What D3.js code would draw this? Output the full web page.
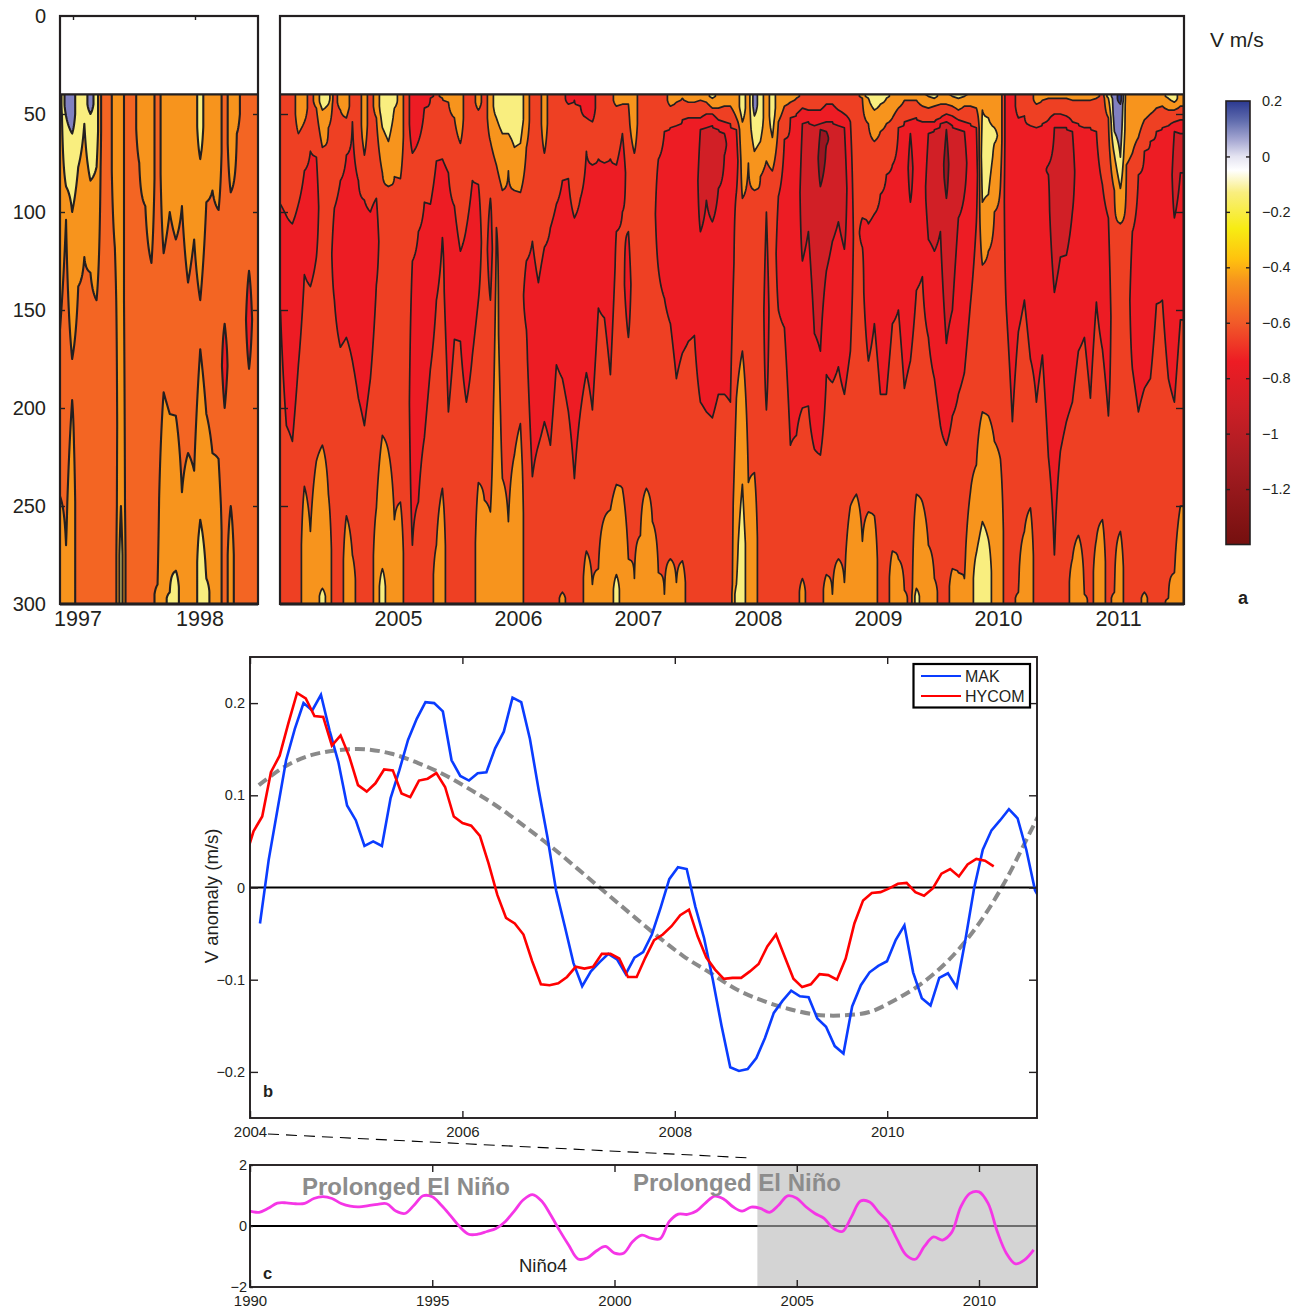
<!DOCTYPE html>
<html>
<head>
<meta charset="utf-8">
<script src="https://cdnjs.cloudflare.com/ajax/libs/d3/7.8.5/d3.min.js"></script>
<style>
html, body { margin: 0; padding: 0; background: #fff; overflow: hidden; }
text { font-family: "Liberation Sans", Arial, sans-serif; fill: #231F20; }
</style>
</head>
<body>
<svg id="chart" width="1302" height="1309"></svg>
<script>
// --- panel a : one column per 0.05 yr, read top to bottom as band, depth where it ends, next band, ...
// bands: 0 deep blue, 1 periwinkle, 2 pale yellow, 3 orange, 4 orange red, 5 red, 6 dark red, 7 darkest red
var bandColorsRight = ["#2B3990", "#8080C0", "#F9EE7F", "#F7941D", "#EE4023", "#ED1C24", "#D11F26", "#9B1520"];
var bandColorsLeft = ["#2B3990", "#8080C0", "#F9EE7F", "#F7941D", "#F36523", "#ED1C24", "#D11F26", "#9B1520"];
var depthTicks = [0, 50, 100, 150, 200, 250, 300];
var leftYears = [1997, 1998];
var rightYears = [2005, 2006, 2007, 2008, 2009, 2010, 2011];
var leftStart = 1996.893, rightStart = 2004.02, columnStep = 0.05;

var leftProfiles = [
  [3,160,4,245,3],[1,51,2,87,3,104,4,270,3],[1,60,2,100,3,175,4,196,3],[2,77,3,138,4],[2,55,3,123,4],
  [1,50,2,84,3,131,4],[2,77,3,145,4],[4],[4],[3,118,4],[3,250,2],[4],[4],[3,75,4],[3,97,4],[3,126,4],
  [4,290,3],[3,121,4,192,3],[3,100,4,203,3,294,2],[3,114,4,204,3,283,2],[3,97,4,243,3],[3,136,4,223,3],
  [3,114,4,232,3],[2,73,3,145,4,170,3,257,2],[3,95,4,203,3,287,2],[3,89,4,223,3],[3,99,4,226,3],
  [4,157,5,200,4],[3,90,4,250,3],[3,60,4],[4],[4,130,5,180,4],[4]
];

var rightProfiles = [
  [4,96,5,150,4],[4,102,5,209,4],[4,106,5,217,4],[3,60,4,96,5,178,4],[3,54,4,79,5,132,4,240,3],
  [4,69,5,138,4,263,3],[3,47,4,72,5,123,4,227,3],[2,48,3,67,4,219,3,292,2],[2,45,3,57,4,244,3],[4,98,5,145,4],
  [3,48,4,84,5,169,4],[3,52,4,71,5,164,4,255,3],[4,54,5,176,4,275,3],[4,84,5,195,4],[3,71,4,94,5,209,4],
  [4,100,5,185,4],[3,52,4,93,5,137,4,251,3],[2,57,3,80,4,214,3,282,2],[2,64,3,87,4,222,3],[2,47,3,82,4,257,3],
  [3,83,4,248,3],[4],[5,70,4,125,5,270,4],[5,64,4,110,5,248,4],[5,47,4,95,5,215,4],
  [5,42,4,96,5,180,4],[4,74,5,145,4,270,3],[3,42,4,73,5,113,4,241,3],[3,44,4,80,5,202,4],[3,52,4,97,5,165,4],
  [3,65,4,120,5,166,4],[4,108,5,197,4],[4,84,5,173,4],[3,48,4,86,5,145,4,238,3],[4,247,3],
  [3,64,4,93,5,145,4,253,3],[2,52,3,76,4,108,3],[2,60,3,89,4,236,3],[2,60,3,79,4,258,3],[2,67,3,89,4,224,3],
  [2,65,3,90,4,208,3],[3,67,4,125,5,160,4],[4,115,5,235,4],[4,136,5,219,4],[3,70,4,118,5,207,4],
  [4,108,5,219,4],[4,96,5,178,4],[4,84,5,185,4,294,3],[5,45,4,83,5,202,4],[5,43,4,103,5,236,4],
  [5,46,4,93,5,202,4],[5,52,4,69,5,182,4,273,3],[5,54,4,76,5,201,4,290,3],[4,73,5,149,4,282,3],[4,75,5,154,4,256,3],
  [4,73,5,183,4,252,3],[3,46,4,76,5,110,4,239,3,285,2],[3,45,4,60,5,100,4,241,3],[3,45,4,110,5,164,4,277,3],[3,70,4,287,3],
  [4,265,3],[4,241,3],[4,258,3],[4,73,5,129,4,284,3],[4,59,5,144,4,295,3],
  [3,46,4,57,5,157,4,277,3],[3,44,4,56,5,185,4,289,3],[3,42,4,53,5,172,4,278,3],[3,44,4,52,5,166,4],[3,44,4,52,5,163,4],
  [3,43,4,52,5,58,6,110,5,197,4],[3,44,4,50,5,57,6,94,5,202,4],[2,42,3,47,4,50,5,56,6,105,5,205,4],[3,47,4,53,5,58,6,88,5,193,4],[3,46,4,54,5,60,6,71,5,193,4],
  [3,46,4,55,5,197,4],[3,52,4,58,5,90,4,195,3,290,2],[2,54,3,93,4,171,3,239,2],[3,75,4,238,3],[1,51,2,69,3,89,4,233,3],
  [2,64,3,82,4],[3,74,4,100,5,201,4],[2,62,3,79,4],[3,54,4,92,5,150,4],[3,46,4,63,5,159,4],
  [3,44,4,52,5,219,4],[3,42,4,50,5,214,4],[4,47,5,55,6,125,5,200,4,287,3],[4,48,5,54,6,110,5,199,4],[4,48,5,56,6,162,5,221,4],
  [4,48,5,55,6,58,7,87,6,171,5,224,4],[4,45,5,54,6,59,7,66,6,130,5,183,4,285,3],[4,45,5,54,6,115,5,187,4,295,3],[4,48,5,56,6,105,5,179,4,277,3],[4,50,5,57,6,119,5,193,4,289,3],
  [4,54,5,171,4,250,3],[4,244,3],[3,42,4,103,5,118,4,268,3],[2,42,3,55,4,106,5,176,4,253,3],[2,48,3,64,4,101,5,157,4,255,3],
  [2,45,3,59,4,91,5,193,4],[2,42,3,55,4,81,5,193,4],[3,52,4,76,5,157,4,273,3],[3,47,4,57,5,150,4,277,3],[3,43,4,54,5,190,4,293,3],
  [3,43,4,53,5,60,6,95,5,176,4],[3,43,4,52,5,140,4,244,3,292,2],[3,46,4,54,5,133,4,248,3],[2,41,3,47,4,54,5,60,6,114,5,164,4,270,3],[2,42,3,46,4,54,5,58,6,120,5,185,4,287,3],
  [3,45,4,52,5,55,6,110,5,209,4],[3,45,4,50,5,54,6,58,7,93,6,167,5,219,4],[2,41,3,46,4,51,5,56,6,150,5,204,4,282,3],[2,42,3,48,4,53,5,58,6,103,5,193,4,284,3],[2,41,3,46,4,54,5,59,6,91,5,182,4,287,3],
  [3,46,4,55,5,147,4,243,3],[3,47,4,57,5,105,4,229,3,274,2],[3,48,2,95,3,127,4,202,3,258,2],[3,52,2,91,3,120,4,204,3,267,2],[3,57,2,65,3,100,4,217,3],
  [3,87,4,226,3],[5,150,4],[5,207,4],[4,52,5,161,4,294,3],[4,51,5,145,4,263,3],
  [4,56,5,175,4,251,3],[3,45,4,57,5,197,4],[3,43,4,55,5,173,4],[3,42,4,53,5,76,6,81,5,225,4],[3,42,4,50,5,57,6,141,5,275,4],
  [3,42,4,50,5,57,6,123,5,222,4],[3,42,4,51,5,57,6,122,5,207,4],[3,43,4,54,5,59,6,100,5,197,4,277,3],[3,43,4,55,5,171,4,265,3],[3,43,4,57,5,164,4,295,3],
  [3,43,4,57,5,195,4],[3,42,4,59,5,146,4,267,3],[4,86,5,170,4,257,3],[2,42,3,52,4,103,5,204,4],[1,59,2,71,3,89,4,294,3],
  [0,45,1,72,2,88,3,106,4,263,3],[3,76,4],[3,70,4,110,5,180,4],[3,62,4,81,5,202,4],[3,53,4,69,5,190,4,294,3],
  [3,50,4,64,5,185,4],[3,47,4,59,5,147,4],[3,46,4,57,5,145,4],[2,42,3,48,4,56,5,185,4,297,3],[2,44,3,48,4,54,5,59,6,103,5,197,4,284,3],
  [3,46,4,53,5,60,6,80,5,155,4,250,3]
];

// colour bar
var barTicks = [0.2, 0, -0.2, -0.4, -0.6, -0.8, -1, -1.2];
var barStopValues = [0.2, 0.13, 0.06, 0, -0.05, -0.13, -0.26, -0.37, -0.45, -0.6, -0.74, -0.9, -1.1, -1.4];
var barStopColors = ["#2B3990", "#5F6BAD", "#A5A7D2", "#E4E3F1", "#FFFFFF", "#F9EE7F", "#F7EC13", "#FFC20E", "#F7941D", "#F15A29", "#ED1C24", "#CE1F26", "#A71C22", "#75100F"];

// --- panel b : monthly values, m/s
var makStart = 2004.094, hycomStart = 2003.951, monthStep = 0.082;
var mak = [-0.039, 0.030, 0.084, 0.138, 0.172, 0.200, 0.192, 0.209, 0.170, 0.136, 0.089, 0.073, 0.045, 0.050, 0.045,
  0.097, 0.127, 0.160, 0.183, 0.201, 0.200, 0.191, 0.138, 0.121, 0.116, 0.124, 0.125, 0.151, 0.169, 0.206, 0.201,
  0.161, 0.106, 0.055, -0.003, -0.042, -0.082, -0.107, -0.091, -0.081, -0.072, -0.078, -0.094, -0.076,
  -0.070, -0.051, -0.022, 0.009, 0.022, 0.020, -0.021, -0.055, -0.100, -0.150, -0.195, -0.199, -0.197, -0.185,
  -0.163, -0.136, -0.123, -0.112, -0.118, -0.119, -0.142, -0.151, -0.172, -0.180, -0.129, -0.106, -0.092, -0.085,
  -0.080, -0.057, -0.041, -0.092, -0.120, -0.128, -0.098, -0.093, -0.108, -0.057, -0.001, 0.041, 0.062, 0.073,
  0.085, 0.075, 0.041, -0.003, -0.020];
var hycom = [0.030, 0.061, 0.077, 0.125, 0.143, 0.178, 0.211, 0.205, 0.186, 0.185, 0.154, 0.165, 0.142, 0.111, 0.104,
  0.113, 0.128, 0.127, 0.102, 0.098, 0.116, 0.118, 0.124, 0.109, 0.077, 0.070, 0.067, 0.056, 0.026, -0.008, -0.033,
  -0.039, -0.051, -0.080, -0.105, -0.106, -0.104, -0.097, -0.086, -0.088, -0.086, -0.072, -0.072, -0.077, -0.097,
  -0.097, -0.076, -0.057, -0.051, -0.042, -0.030, -0.024, -0.053, -0.076, -0.089, -0.099, -0.098, -0.098, -0.091,
  -0.083, -0.064, -0.051, -0.075, -0.099, -0.108, -0.105, -0.094, -0.095, -0.100, -0.077, -0.039, -0.014, -0.006,
  -0.005, -0.001, 0.004, 0.005, -0.005, -0.009, -0.001, 0.015, 0.020, 0.012, 0.025, 0.031, 0.029, 0.023];
// dashed low pass curve, one value per quarter year
var trendStart = 2004.0833, trendStep = 0.25;
var trend = [0.111, 0.1315, 0.1438, 0.149, 0.150, 0.145, 0.135, 0.122, 0.1056, 0.0876, 0.0665, 0.0445, 0.0205, -0.004,
  -0.0285, -0.0525, -0.0746, -0.0926, -0.1106, -0.123, -0.132, -0.138, -0.1387, -0.135, -0.1214, -0.1034, -0.0782,
  -0.044, 0.001, 0.057, 0.115];
var anomalyTicks = [0.2, 0.1, 0, -0.1, -0.2];
var bYears = [2004, 2006, 2008, 2010];

// --- panel c : Nino4, one value per quarter year from 1990
var ninoStart = 1990, ninoStep = 0.25;
var nino4 = [0.49, 0.45, 0.58, 0.75, 0.76, 0.73, 0.74, 0.90, 0.96, 0.90, 0.74, 0.65, 0.63, 0.67, 0.71, 0.73, 0.49, 0.41,
  0.68, 0.99, 0.96, 0.68, 0.34, -0.02, -0.27, -0.27, -0.18, -0.08, 0.14, 0.49, 0.86, 1.03, 0.82, 0.36, -0.16, -0.64,
  -1.08, -1.05, -0.82, -0.67, -0.89, -0.89, -0.51, -0.30, -0.40, -0.42, 0.14, 0.39, 0.38, 0.49, 0.76, 0.98, 0.88, 0.63,
  0.49, 0.62, 0.58, 0.45, 0.68, 0.99, 0.91, 0.63, 0.41, 0.25, -0.08, -0.18, 0.30, 0.82, 0.79, 0.45, 0.14, -0.43, -0.95,
  -1.09, -0.67, -0.36, -0.46, -0.21, 0.63, 1.07, 1.12, 0.74, -0.18, -0.89, -1.24, -1.11, -0.78];
var ninoTicks = [2, 0, -2];
var cYears = [1990, 1995, 2000, 2005, 2010];
var shadeStart = 2003.92;

var svg = d3.select("#chart");
var ink = "#231F20";
var fmtMinus = function (v) { return String(v).replace("-", "\u2212"); };

// turns one column into depth -> value, value is band number on a continuous scale
function columnProfile(col) {
    var depths = [], vals = [], top = 40, i;
    for (i = 0; i < col.length; i += 2) {
        var bottom = i + 1 < col.length ? col[i + 1] : 300;
        if (i === 0) { depths.push(top); vals.push(col[0] + 0.5); }
        depths.push((top + bottom) / 2);
        vals.push(col[i] + 0.5);
        if (i + 1 < col.length) {
            depths.push(bottom);
            vals.push((col[i] + col[i + 2] + 1) / 2);
        } else {
            depths.push(300);
            vals.push(col[i] + 0.5);
        }
        top = bottom;
    }
    return d3.scaleLinear().domain(depths).range(vals);
}

function drawField(g, profiles, colors, x, y, start, box, strokeWidth, id) {
    var n = profiles.length, m = 261, values = new Array(n * m);
    profiles.forEach(function (col, c) {
        var p = columnProfile(col);
        for (var r = 0; r < m; r++) {
            values[c + r * n] = p(40 + r);
        }
    });

    var contours = d3.contours().size([n, m]).thresholds(d3.range(1, 8))(values);
    var path = d3.geoPath(d3.geoTransform({
        point: function (px, py) {
            this.stream.point(x(start + (px - 0.5) * columnStep), y(40 + py - 0.5));
        }
    }));

    svg.append("clipPath").attr("id", id)
        .append("rect")
        .attr("x", box.x0).attr("y", y(40))
        .attr("width", box.x1 - box.x0).attr("height", y(300) - y(40));

    var inner = g.append("g").attr("clip-path", "url(#" + id + ")");
    inner.append("rect")
        .attr("x", box.x0).attr("y", y(40))
        .attr("width", box.x1 - box.x0).attr("height", y(300) - y(40))
        .attr("fill", colors[0]);

    inner.selectAll("path").data(contours).enter().append("path")
        .attr("d", path)
        .attr("fill", function (d) { return colors[d.value]; })
        .attr("stroke", ink)
        .attr("stroke-width", strokeWidth)
        .attr("stroke-linejoin", "round");
}

function frame(g, x0, y0, x1, y1, w) {
    g.append("rect")
        .attr("x", x0).attr("y", y0)
        .attr("width", x1 - x0).attr("height", y1 - y0)
        .attr("fill", "none").attr("stroke", ink).attr("stroke-width", w);
}

function styleAxis(sel, size, color) {
    sel.select(".domain").remove();
    sel.selectAll("line").attr("stroke", color || ink).attr("stroke-width", 1.4);
    sel.selectAll("text").attr("font-size", size).attr("fill", ink)
        .style("font-family", '"Liberation Sans", Arial, sans-serif');
}

// ---------- panel a ----------
var depthY = d3.scaleLinear().domain([0, 300]).range([16, 604]);
var leftBox = { x0: 60, x1: 258 }, rightBox = { x0: 280, x1: 1184 };
var leftX = d3.scaleLinear().domain([1997, 1998]).range([73, 195]);
var rightX = d3.scaleLinear().domain([2005, 2011]).range([398, 1118]);
var panelA = svg.append("g");

drawField(panelA, leftProfiles, bandColorsLeft, leftX, depthY, leftStart, leftBox, 2.1, "clipLeft");
drawField(panelA, rightProfiles, bandColorsRight, rightX, depthY, rightStart, rightBox, 1.7, "clipRight");

[leftBox, rightBox].forEach(function (b, i) {
    var len = i === 0 ? 5 : 8;
    frame(panelA, b.x0, 16, b.x1, 604, 2.2);
    panelA.append("line")
        .attr("x1", b.x0).attr("x2", b.x1)
        .attr("y1", depthY(40)).attr("y2", depthY(40))
        .attr("stroke", ink).attr("stroke-width", 2.4);
    panelA.append("line")
        .attr("x1", b.x0).attr("x2", b.x1)
        .attr("y1", 604).attr("y2", 604)
        .attr("stroke", ink).attr("stroke-width", 2.8);

    var inTicks = depthTicks.filter(function (d) { return d > 40 && d < 300; });
    panelA.append("g").attr("transform", "translate(" + b.x0 + ",0)")
        .call(d3.axisLeft(depthY).tickValues(inTicks).tickSize(-len).tickFormat(""))
        .call(styleAxis, 13);
    panelA.append("g").attr("transform", "translate(" + b.x1 + ",0)")
        .call(d3.axisRight(depthY).tickValues(inTicks).tickSize(-len).tickFormat(""))
        .call(styleAxis, 13);
});

panelA.append("g").attr("transform", "translate(60,0)")
    .call(d3.axisLeft(depthY).tickValues(depthTicks).tickSize(0).tickPadding(14).tickFormat(d3.format("d")))
    .call(styleAxis, 20);

panelA.append("g").attr("transform", "translate(4.5,604)")
    .call(d3.axisBottom(leftX).tickValues(leftYears).tickSize(0).tickPadding(7).tickFormat(d3.format("d")))
    .call(styleAxis, 21.5);
panelA.append("g").attr("transform", "translate(0,604)")
    .call(d3.axisBottom(rightX).tickValues(rightYears).tickSize(0).tickPadding(7).tickFormat(d3.format("d")))
    .call(styleAxis, 21.5);
panelA.append("g").attr("transform", "translate(0,16)")
    .call(d3.axisTop(leftX).tickValues(leftYears).tickSize(-4).tickFormat(""))
    .call(styleAxis, 13);

panelA.append("text").attr("x", 1210).attr("y", 47).attr("font-size", 21).text("V m/s");
panelA.append("text").attr("x", 1238).attr("y", 604).attr("font-size", 18).attr("font-weight", "bold").text("a");

// colour bar
var barY = d3.scaleLinear().domain([0.2, -1.4]).range([101, 544.5]);
var grad = svg.append("defs").append("linearGradient")
    .attr("id", "barGrad").attr("x1", 0).attr("x2", 0).attr("y1", 0).attr("y2", 1);
barStopValues.forEach(function (v, i) {
    grad.append("stop")
        .attr("offset", (barY(v) - barY(0.2)) / (barY(-1.4) - barY(0.2)))
        .attr("stop-color", barStopColors[i]);
});
panelA.append("rect")
    .attr("x", 1226).attr("y", barY(0.2))
    .attr("width", 24).attr("height", barY(-1.4) - barY(0.2))
    .attr("fill", "url(#barGrad)").attr("stroke", ink).attr("stroke-width", 1.6);
panelA.append("g").attr("transform", "translate(1226,0)")
    .call(d3.axisLeft(barY).tickValues(barTicks.slice(1)).tickSize(-4).tickFormat(""))
    .call(styleAxis, 14.5);
panelA.append("g").attr("transform", "translate(1250,0)")
    .call(d3.axisRight(barY).tickValues(barTicks.slice(1)).tickSize(-4).tickPadding(12).tickFormat(fmtMinus))
    .call(styleAxis, 14.5);
panelA.append("g").attr("transform", "translate(1250,0)")
    .call(d3.axisRight(barY).tickValues([0.2]).tickSize(0).tickPadding(12).tickFormat(fmtMinus))
    .call(styleAxis, 14.5);

// ---------- panel b ----------
var bX = d3.scaleLinear().domain([2004, 2006]).range([250, 462.4]);
var bY = d3.scaleLinear().domain([0.25, -0.25]).range([657, 1118]);
var bRight = 1037;
var panelB = svg.append("g");

svg.append("clipPath").attr("id", "clipB").append("rect")
    .attr("x", 250).attr("y", 657).attr("width", bRight - 250).attr("height", 461);

var lineFrom = function (start, step, x, y) {
    return d3.line()
        .x(function (d, i) { return x(start + i * step); })
        .y(function (d) { return y(d); });
};

var bLines = panelB.append("g").attr("clip-path", "url(#clipB)");
bLines.append("path").datum(trend)
    .attr("d", lineFrom(trendStart, trendStep, bX, bY).curve(d3.curveCatmullRom))
    .attr("fill", "none").attr("stroke", "#8A8A8A").attr("stroke-width", 4)
    .attr("stroke-dasharray", "10,5");
bLines.append("line")
    .attr("x1", 250).attr("x2", bRight).attr("y1", bY(0)).attr("y2", bY(0))
    .attr("stroke", "#000").attr("stroke-width", 1.9);
bLines.append("path").datum(mak)
    .attr("d", lineFrom(makStart, monthStep, bX, bY))
    .attr("fill", "none").attr("stroke", "#0A3CFF").attr("stroke-width", 2.6);
bLines.append("path").datum(hycom)
    .attr("d", lineFrom(hycomStart, monthStep, bX, bY))
    .attr("fill", "none").attr("stroke", "#FF0000").attr("stroke-width", 2.6);

frame(panelB, 250, 657, bRight, 1118, 1.9);
panelB.append("g").attr("transform", "translate(250,0)")
    .call(d3.axisLeft(bY).tickValues(anomalyTicks).tickSize(-8).tickPadding(5).tickFormat(fmtMinus))
    .call(styleAxis, 14.5);
panelB.append("g").attr("transform", "translate(" + bRight + ",0)")
    .call(d3.axisRight(bY).tickValues(anomalyTicks).tickSize(-8).tickFormat(""))
    .call(styleAxis, 14.5);
panelB.append("g").attr("transform", "translate(0,1118)")
    .call(d3.axisBottom(bX).tickValues(bYears).tickSize(-7).tickPadding(8).tickFormat(d3.format("d")))
    .call(styleAxis, 15);
panelB.append("g").attr("transform", "translate(0,657)")
    .call(d3.axisTop(bX).tickValues(bYears).tickSize(-7).tickFormat(""))
    .call(styleAxis, 15);

panelB.append("text")
    .attr("transform", "translate(218,896) rotate(-90)")
    .attr("text-anchor", "middle").attr("font-size", 18.5).text("V anomaly (m/s)");
panelB.append("text").attr("x", 263).attr("y", 1097).attr("font-size", 16.5).attr("font-weight", "bold").text("b");

// legend
var legend = panelB.append("g");
legend.append("rect").attr("x", 913.5).attr("y", 664).attr("width", 116.5).attr("height", 43.5)
    .attr("fill", "#fff").attr("stroke", "#000").attr("stroke-width", 2.2);
[["MAK", "#0A3CFF", 676], ["HYCOM", "#FF0000", 696]].forEach(function (it) {
    legend.append("line").attr("x1", 921).attr("x2", 961).attr("y1", it[2]).attr("y2", it[2])
        .attr("stroke", it[1]).attr("stroke-width", 2.2);
    legend.append("text").attr("x", 965).attr("y", it[2] + 5.5).attr("font-size", 16).text(it[0]);
});

svg.append("line")
    .attr("x1", 268).attr("y1", 1134).attr("x2", 752).attr("y2", 1158)
    .attr("stroke", "#000").attr("stroke-width", 1.1).attr("stroke-dasharray", "11,7");

// ---------- panel c ----------
var cX = d3.scaleLinear().domain([1990, 2010]).range([250, 979]);
var cY = d3.scaleLinear().domain([2, -2]).range([1165, 1287]);
var panelC = svg.append("g");

panelC.append("line")
    .attr("x1", 250).attr("x2", bRight).attr("y1", cY(0)).attr("y2", cY(0))
    .attr("stroke", "#000").attr("stroke-width", 2.1);
panelC.append("rect")
    .attr("x", cX(shadeStart)).attr("y", 1165)
    .attr("width", bRight - cX(shadeStart)).attr("height", 122)
    .attr("fill", "#B8B8B8").attr("opacity", 0.6);
panelC.append("path").datum(nino4)
    .attr("d", lineFrom(ninoStart, ninoStep, cX, cY).curve(d3.curveCatmullRom))
    .attr("fill", "none").attr("stroke", "#F536E6").attr("stroke-width", 2.8);

frame(panelC, 250, 1165, bRight, 1287, 1.9);
panelC.append("g").attr("transform", "translate(250,0)")
    .call(d3.axisLeft(cY).tickValues(ninoTicks).tickSize(-3).tickPadding(3).tickFormat(fmtMinus))
    .call(styleAxis, 14.5);
panelC.append("g").attr("transform", "translate(0,1287)")
    .call(d3.axisBottom(cX).tickValues(cYears).tickSize(-7).tickPadding(8).tickFormat(d3.format("d")))
    .call(styleAxis, 15);
panelC.append("g").attr("transform", "translate(0,1165)")
    .call(d3.axisTop(cX).tickValues(cYears).tickSize(-7).tickFormat(""))
    .call(styleAxis, 15);

panelC.append("text").attr("x", 302).attr("y", 1195).attr("font-size", 24).attr("font-weight", "bold")
    .style("fill", "#8C8C8C").text("Prolonged El Ni\u00F1o");
panelC.append("text").attr("x", 633).attr("y", 1191).attr("font-size", 24).attr("font-weight", "bold")
    .style("fill", "#8C8C8C").text("Prolonged El Ni\u00F1o");
panelC.append("text").attr("x", 519).attr("y", 1272).attr("font-size", 18.5).text("Ni\u00F1o4");
panelC.append("text").attr("x", 263).attr("y", 1279).attr("font-size", 16.5).attr("font-weight", "bold").text("c");
</script>
</body>
</html>
